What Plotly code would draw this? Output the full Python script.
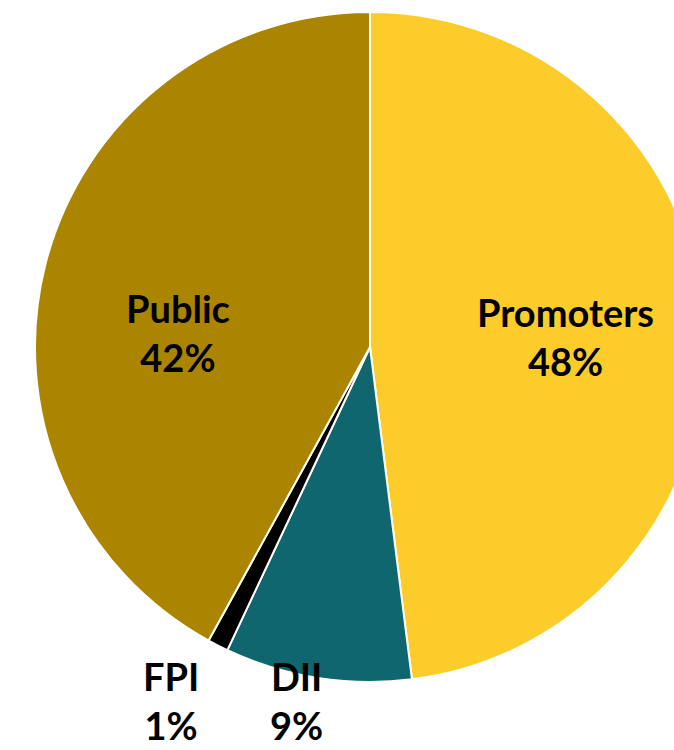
import plotly.graph_objects as go

# Shareholding pattern
categories = ["Promoters", "DII", "FPI", "Public"]
shares = [48, 9, 1, 42]
colors = ["#FCCD2A", "#10666F", "#000000", "#AC8500"]

# where each category label sits, in paper coordinates of the pie domain
label_x = [0.792, 0.391, 0.203, 0.213]
label_y = [0.515, -0.028, -0.028, 0.521]

label_font = dict(family="Lato", size=38, color="black", weight="bold")

fig = go.Figure(
    go.Pie(
        labels=categories,
        values=shares,
        sort=False,
        direction="clockwise",
        rotation=0,
        marker=dict(colors=colors, line=dict(color="white", width=2)),
        textinfo="none",
        hoverinfo="label+percent",
        showlegend=False,
    )
)

for name, value, x, y in zip(categories, shares, label_x, label_y):
    fig.add_annotation(
        x=x,
        y=y,
        xref="paper",
        yref="paper",
        xanchor="center",
        yanchor="middle",
        text=f"{name}<br>{value}%",
        showarrow=False,
        font=label_font,
    )

fig.update_layout(
    width=740,
    height=750,
    margin=dict(l=35, r=35, t=12, b=68),
    paper_bgcolor="white",
    plot_bgcolor="white",
)

fig.write_html(
    "out.html",
    post_script="document.body.style.overflow='hidden';"
    "document.documentElement.style.overflow='hidden';"
    "document.body.style.margin='0';",
)
